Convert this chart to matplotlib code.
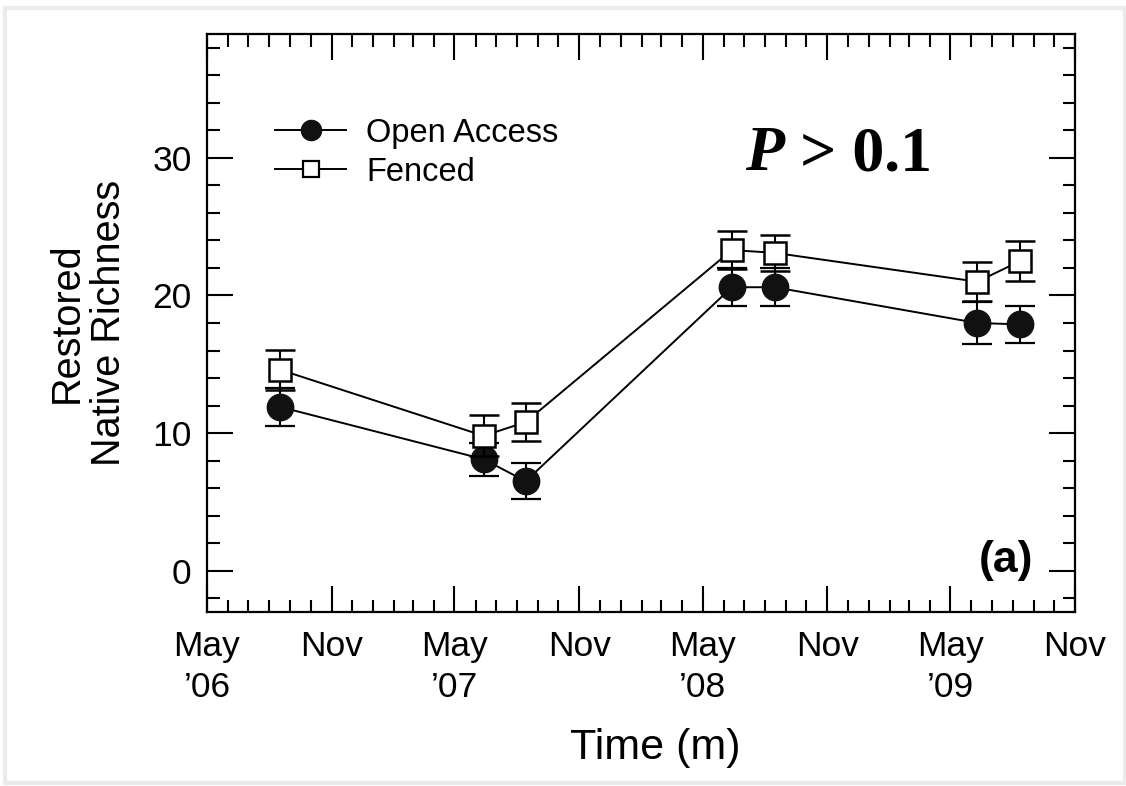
import numpy as np
import matplotlib
matplotlib.use('Agg')
import matplotlib.pyplot as plt
import matplotlib.dates as mdates
from matplotlib.lines import Line2D
from matplotlib.patches import Rectangle

# sampling dates and group means (+/- SE)
dates = np.array(['2006-08-17', '2007-06-13', '2007-08-14', '2008-06-13',
                  '2008-08-15', '2009-06-10', '2009-08-12'], dtype='datetime64[D]')
open_mean = [11.9, 8.1, 6.5, 20.6, 20.6, 18.0, 17.9]
open_se = [1.4, 1.2, 1.3, 1.4, 1.4, 1.5, 1.35]
fenced_mean = [14.6, 9.8, 10.8, 23.3, 23.1, 21.0, 22.5]
fenced_se = [1.45, 1.5, 1.4, 1.35, 1.3, 1.4, 1.45]

plt.rcParams['font.family'] = ['Liberation Sans', 'DejaVu Sans']

fig = plt.figure(figsize=(11.26, 7.86), dpi=100)
ax = fig.add_axes([0.1838, 0.2214, 0.7709, 0.7353])

# faint frame around the screenshot
fig.patches.append(Rectangle((0.004, 0.004), 0.995, 0.986, transform=fig.transFigure,
                             fill=False, edgecolor='#ebebeb', lw=3))

ax.errorbar(dates, open_mean, yerr=open_se, fmt='-o', color='black', mfc='#111111',
            mec='#111111', ms=19, lw=1.4, elinewidth=1.5, capsize=10.8, capthick=1.6,
            zorder=3)
ax.errorbar(dates, fenced_mean, yerr=fenced_se, fmt='-s', color='black', mfc='white',
            mec='black', mew=1.8, ms=15.5, lw=1.4, elinewidth=1.5, capsize=10.8,
            capthick=1.6, zorder=4)

ax.set_xlim(np.datetime64('2006-05-01'), np.datetime64('2009-11-01'))
ax.set_ylim(-3, 39)
ax.xaxis.set_major_locator(mdates.MonthLocator(bymonth=[5, 11]))
ax.xaxis.set_minor_locator(mdates.MonthLocator())

def fmt_date(x, pos):
    d = mdates.num2date(x)
    if d.month == 5:
        return "May\n\u2019" + d.strftime('%y')
    return d.strftime('%b')

ax.xaxis.set_major_formatter(plt.FuncFormatter(fmt_date))
ax.set_yticks([0, 10, 20, 30])
ax.set_yticks(np.arange(-2, 39, 2), minor=True)

ax.tick_params(which='both', direction='in', top=True, right=True, width=1.5,
               labelsize=25.5, colors='black')
ax.tick_params(which='major', length=19)
ax.tick_params(which='minor', length=9)
ax.tick_params(axis='y', pad=11)
ax.tick_params(axis='x', pad=13)
for lab in ax.get_xticklabels():
    lab.set_linespacing(1.3)
for s in ax.spines.values():
    s.set_linewidth(1.6)

ax.set_ylabel("Restored\nNative Richness", fontsize=28.5, linespacing=1.15)
ax.yaxis.set_label_coords(-0.091, 0.5)
ax.set_xlabel("Time (m)", fontsize=31)
ax.xaxis.set_label_coords(0.516, -0.2)

handles = [Line2D([], [], color='black', lw=1.4, marker='o', ms=14.5, mfc='#111111', mec='#111111'),
           Line2D([], [], color='black', lw=1.4, marker='s', ms=12, mfc='white', mec='black', mew=1.6)]
ax.legend(handles, ['Open Access', 'Fenced'], loc='upper left', bbox_to_anchor=(0.078, 0.855),
          frameon=False, fontsize=23.5, handlelength=2.2, handletextpad=0.6,
          labelspacing=0.24, borderpad=0, borderaxespad=0)

ptxt = ax.text(0.62, 0.764, 'P', transform=ax.transAxes, fontsize=46,
               family='Liberation Serif', weight='bold', style='italic', va='baseline')
ax.annotate(' > 0.1', xy=(1, 0), xycoords=ptxt, fontsize=46, family='Liberation Serif',
            weight='bold', va='bottom')

ax.text(0.952, 0.07, '(a)', transform=ax.transAxes, fontsize=32, weight='bold',
        ha='right', va='baseline')

fig.savefig('out.png', dpi=100)
